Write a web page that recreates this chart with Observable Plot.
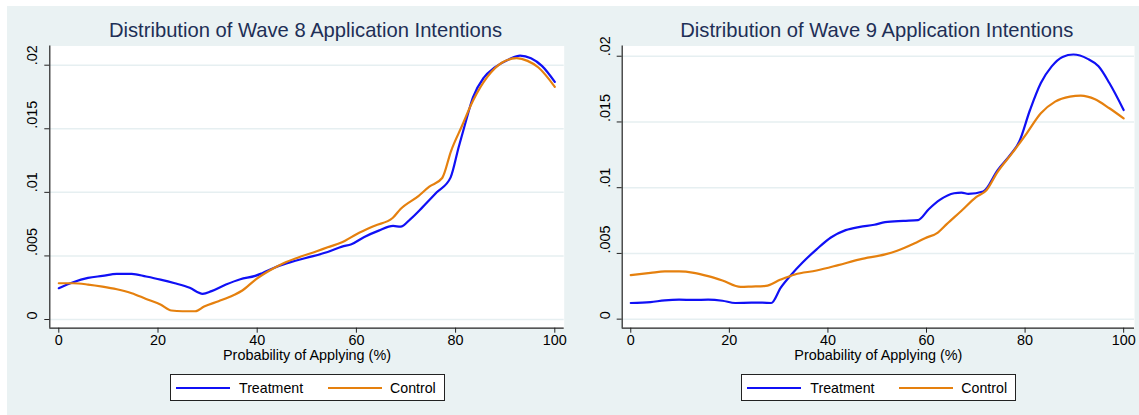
<!DOCTYPE html>
<html>
<head>
<meta charset="utf-8">
<script src="https://cdn.jsdelivr.net/npm/d3@7"></script>
<script src="https://cdn.jsdelivr.net/npm/@observablehq/plot@0.6"></script>
<style>
  html, body { margin: 0; padding: 0; background: #ffffff; }
  body { width: 1139px; height: 415px; position: relative; overflow: hidden; font-family: "Liberation Sans", Arial, sans-serif; }
  #bg { position: absolute; left: 7px; top: 6px; width: 1132px; height: 409px; background: #eaf2f3; }
  .panel { position: absolute; top: 0; }
  .title { position: absolute; top: 19px; font-size: 20.2px; color: #1e2f56; white-space: nowrap; transform: translateX(-50%); line-height: 22px; }
  .legend { position: absolute; top: 374px; height: 25px; background: #fff; border: 1px solid #222; box-sizing: content-box; font-size: 14.2px; color: #000; }
  .legend .sw { position: absolute; top: 12px; width: 54px; height: 0; border-top: 2.4px solid; }
  .legend .lb { position: absolute; top: 4px; line-height: 18px; }
</style>
</head>
<body>
<div id="bg"></div>
<div id="root"></div>
<script>
// ---------------- data ----------------
const xTicks = [0, 20, 40, 60, 80, 100];
const yTicks = [0, 0.005, 0.01, 0.015, 0.02];
const yTickLabels = ["0", ".005", ".01", ".015", ".02"];
const xLabel = "Probability of Applying (%)";
const seriesNames = ["Treatment", "Control"];
const titles = ["Distribution of Wave 8 Application Intentions", "Distribution of Wave 9 Application Intentions"];

const w8TreatX = [0,2.9,5.9,8.8,11.7,14.7,17.6,20.5,23.4,26.4,29,30.8,33.7,36.6,39.6,41,44,46.9,49.8,54.2,57.1,59,61.5,64.5,67.4,68.9,70.9,73.3,76.2,79,80.6,82.1,83.5,85.7,87.9,90.8,93,95.2,97.4,100];
const w8TreatY = [.00246,.00293,.00327,.00343,.00359,.00359,.00338,.00314,.00285,.00249,.00202,.00223,.00275,.00317,.00343,.00364,.00416,.00453,.00484,.00531,.00573,.00592,.00647,.00699,.00736,.0073,.0079,.00882,.0100,.01118,.01353,.01563,.01746,.01903,.01982,.02047,.02076,.02055,.01995,.01869];
const w8CtrlX = [0,2.9,5.9,8.8,11.7,14.7,17.6,20.5,22.7,24.9,27.5,29.3,32.2,35.2,37,39.6,42.5,45.4,48.4,52,54.2,57.1,60.1,63.7,67.3,68.9,72.5,74.7,77.3,79.1,81.3,83.5,86.4,89.4,92.3,94.5,96.7,100];
const w8CtrlY = [.00285,.00285,.00275,.00259,.00238,.00207,.00162,.00118,.00071,.00065,.00065,.00102,.00144,.00191,.00228,.00312,.00385,.00445,.0049,.00537,.00568,.00607,.00673,.00738,.00798,.00869,.00971,.01045,.01113,.01327,.01524,.0172,.01908,.02021,.02055,.02034,.01982,.0183];

const w9TreatX = [0,4,6.9,9.8,12.8,15.7,18.6,21.2,24.5,26.7,28.5,30.4,32.6,34.8,37.7,40.6,43.6,46.5,49.4,51.6,55.3,58.3,60.5,62.7,65.6,67.1,68.5,71.5,74.4,77.3,78.8,81,83.2,85.4,87.6,89.8,92.7,94.9,97.1,100];
const w9TreatY = [.00123,.0013,.00143,.00148,.00146,.00148,.0014,.00123,.00125,.00125,.00123,.00238,.0034,.00429,.00531,.00621,.00677,.00702,.00718,.00738,.00748,.00754,.00838,.00907,.00958,.00963,.00953,.00971,.01132,.01264,.01349,.01591,.01796,.01923,.01995,.02013,.0198,.01923,.01796,.01591];
const w9CtrlX = [0,4,6.9,9.8,12.8,15.7,18.6,22.3,24.5,27.4,30.4,33.3,37.7,42.1,46.5,51.6,53.9,57.5,59.7,62.3,64.1,67.1,70,72.2,74.4,77.3,80.3,83.2,86.1,89.1,91.3,94.2,97.1,100];
const w9CtrlY = [.00335,.00352,.00363,.00363,.00352,.00327,.00294,.00245,.00248,.00253,.00301,.0034,.0037,.00411,.00455,.00493,.00519,.00575,.00616,.00659,.00723,.00825,.00927,.00983,.01119,.01259,.01412,.01566,.01655,.01693,.01701,.01673,.01604,.01527];

const colors = ["#1010f5", "#e5800e"];

// ---------------- drawing ----------------
const toPts = (xs, ys) => xs.map((x, i) => ({x, y: ys[i]}));
const FS = 14.4;

function makePanel(cfg) {
  const {left, width, marginLeft, marginRight, xDom, yDom, treat, ctrl, title} = cfg;
  const height = 370, marginTop = 45.5, marginBottom = 370 - 327.7;
  const svg = Plot.plot({
    width, height, marginLeft, marginRight, marginTop, marginBottom,
    x: {domain: xDom, axis: null},
    y: {domain: yDom, axis: null},
    style: {background: "transparent", fontFamily: '"Liberation Sans", Arial, sans-serif', fontSize: FS + "px", color: "#000", overflow: "visible"},
    marks: [
      Plot.frame({fill: "white", stroke: null}),
      Plot.gridY(yTicks, {stroke: "#e6eff1", strokeOpacity: 1, strokeWidth: 1.5}),
      Plot.line(treat, {x: "x", y: "y", stroke: colors[0], strokeWidth: 2.2, curve: "monotone-x"}),
      Plot.line(ctrl, {x: "x", y: "y", stroke: colors[1], strokeWidth: 2.2, curve: "monotone-x"}),
      Plot.ruleX([xDom[0]], {stroke: "#222", strokeWidth: 1.2}),
      Plot.ruleY([yDom[0]], {stroke: "#222", strokeWidth: 1.2}),
      Plot.axisX(xTicks, {tickSize: 5, tickFormat: () => "", label: null, stroke: "#222"}),
      Plot.axisY(yTicks, {tickSize: 5, tickFormat: () => "", label: null, stroke: "#222"}),
      Plot.text(xTicks, {x: d => d, text: d => String(d), frameAnchor: "bottom", dy: 16.3, fontSize: FS, fill: "#000"}),
      Plot.text(yTicks, {y: d => d, text: (d, i) => yTickLabels[i], frameAnchor: "left", dx: -17, rotate: -90, fontSize: FS, fill: "#000"}),
      Plot.text([xLabel], {text: d => d, frameAnchor: "bottom", dy: 31.6, fontSize: FS, fill: "#000"})
    ]
  });
  const wrap = document.createElement("div");
  wrap.className = "panel";
  wrap.style.left = left + "px";
  wrap.appendChild(svg);
  document.getElementById("root").appendChild(wrap);

  const center = left + marginLeft + (width - marginLeft - marginRight) / 2;
  const t = document.createElement("div");
  t.className = "title";
  t.style.left = (center - 1) + "px";
  t.textContent = title;
  document.getElementById("root").appendChild(t);

  const lg = document.createElement("div");
  lg.className = "legend";
  const lw = 273;
  lg.style.left = (center - lw / 2) + "px";
  lg.style.width = lw + "px";
  lg.innerHTML =
    `<div class="sw" style="left:5px;border-color:${colors[0]}"></div>` +
    `<div class="lb" style="left:68px">${seriesNames[0]}</div>` +
    `<div class="sw" style="left:157px;border-color:${colors[1]}"></div>` +
    `<div class="lb" style="left:219px">${seriesNames[1]}</div>`;
  document.getElementById("root").appendChild(lg);
}

makePanel({
  left: 0, width: 568, marginLeft: 49.3, marginRight: 4.3,
  xDom: [-1.815, 101.895], yDom: [-0.000684, 0.02151],
  treat: toPts(w8TreatX, w8TreatY), ctrl: toPts(w8CtrlX, w8CtrlY), title: titles[0]
});
makePanel({
  left: 570, width: 569, marginLeft: 51.7, marginRight: 5,
  xDom: [-1.74, 102.2], yDom: [-0.000688, 0.020778],
  treat: toPts(w9TreatX, w9TreatY), ctrl: toPts(w9CtrlX, w9CtrlY), title: titles[1]
});
</script>
</body>
</html>
